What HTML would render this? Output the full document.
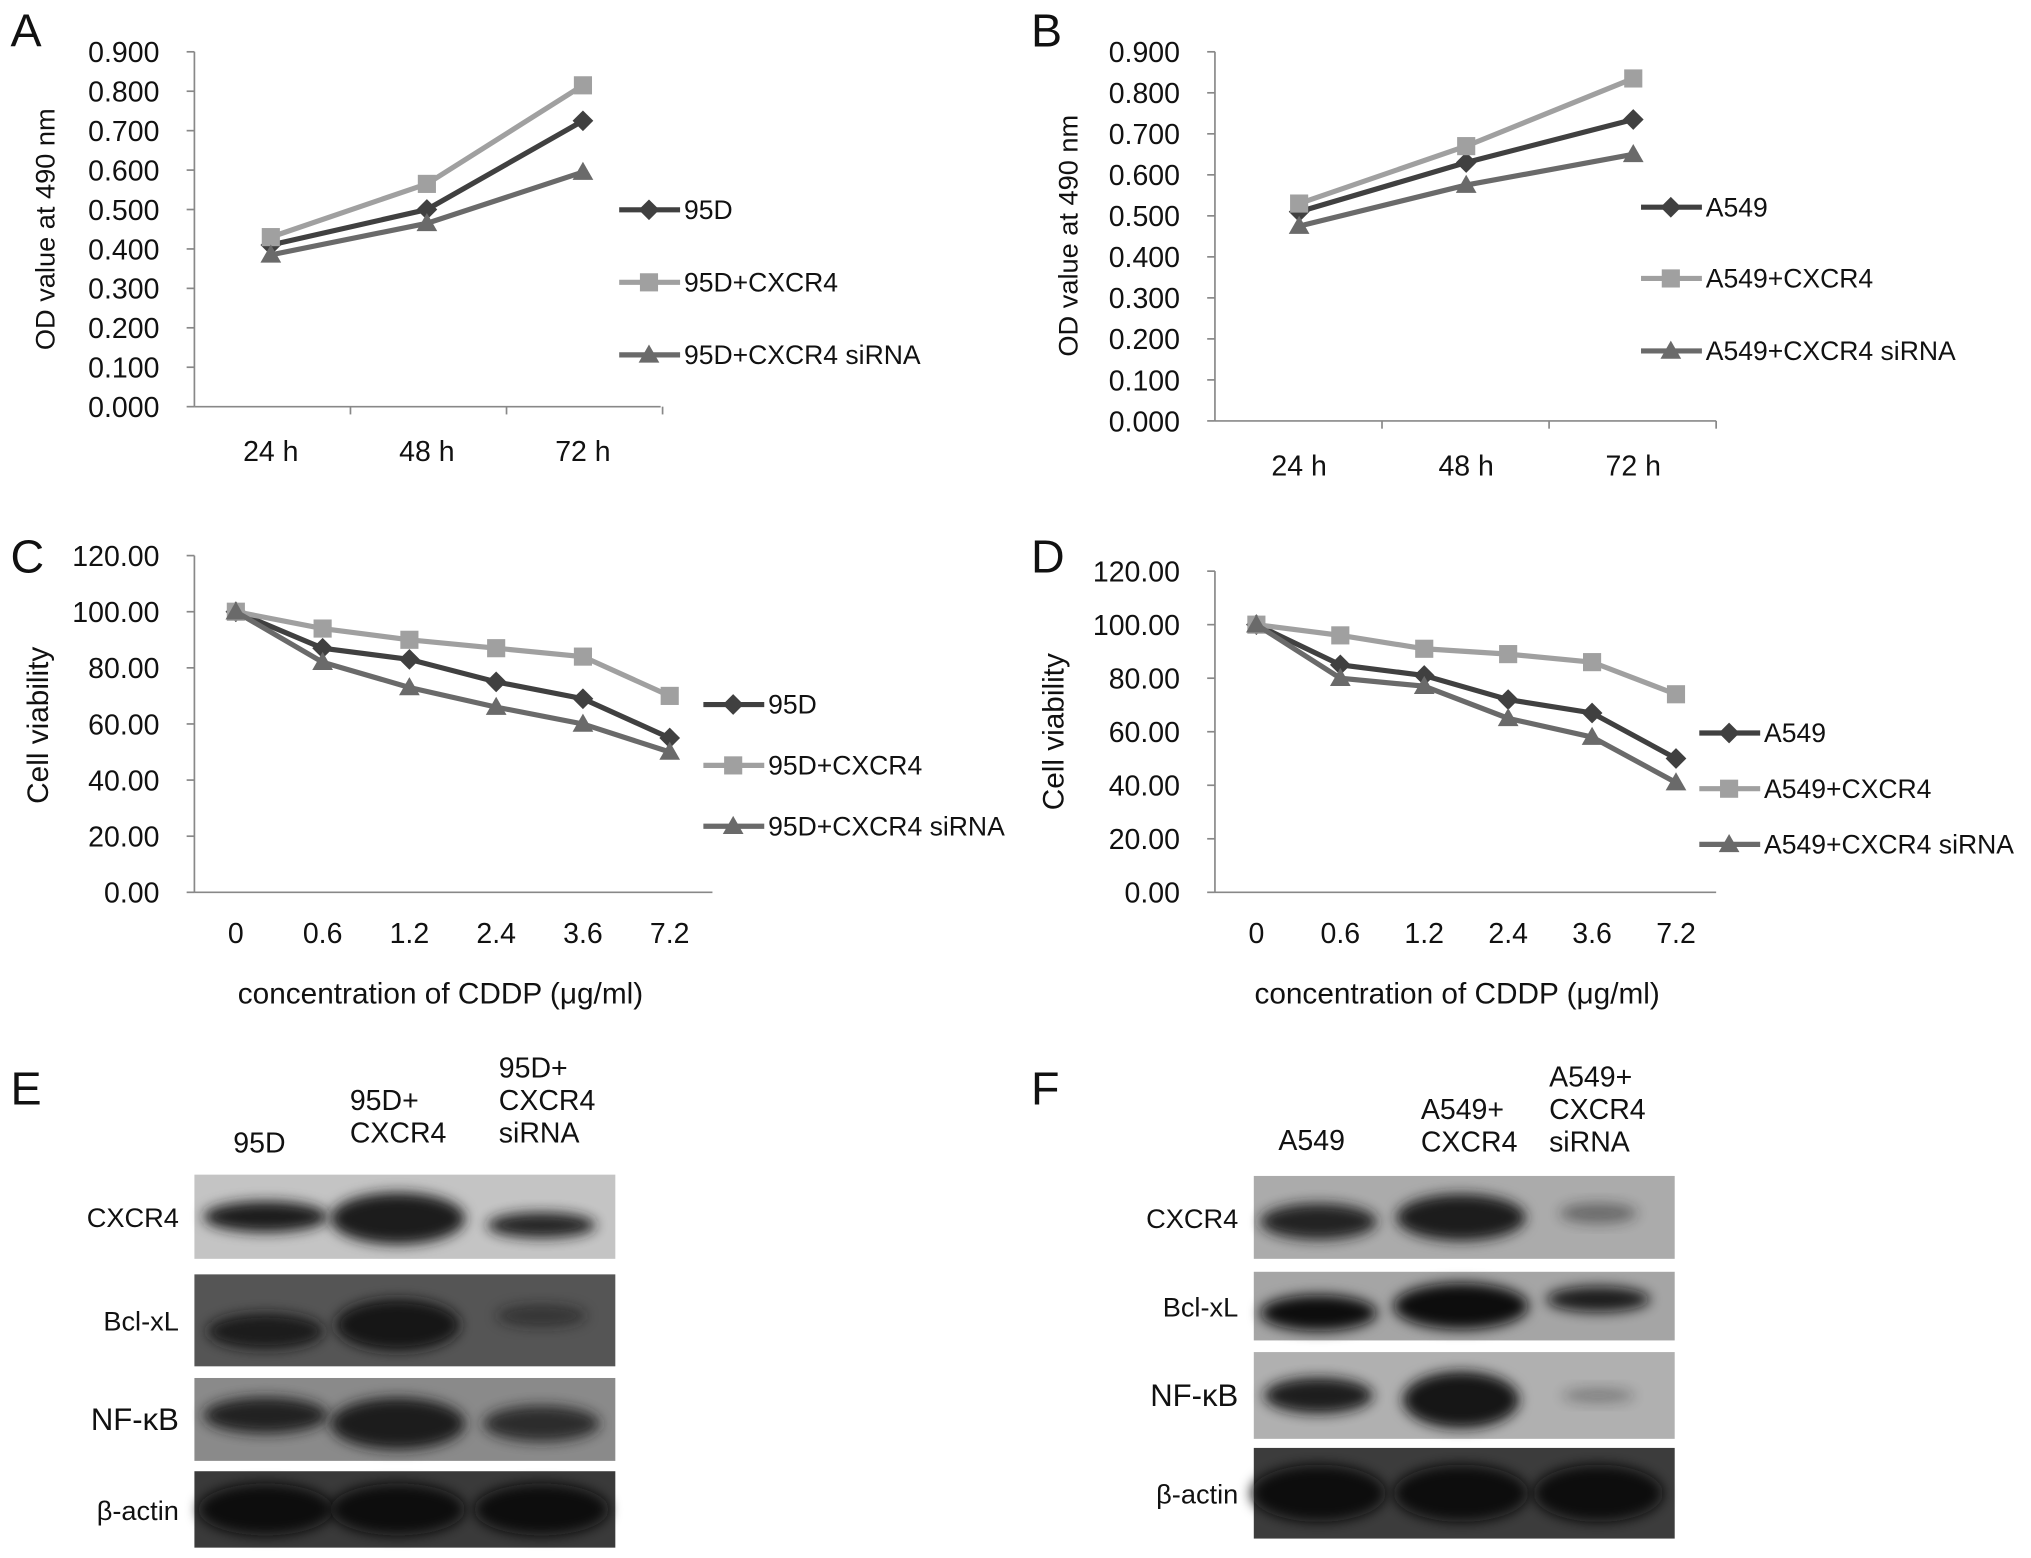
<!DOCTYPE html>
<html><head><meta charset="utf-8"><style>
html,body{margin:0;padding:0;background:#fff;}
svg{display:block;font-family:"Liberation Sans",sans-serif;}
</style></head><body>
<svg id="fig" width="2031" height="1558" viewBox="0 0 1568 1203" xmlns="http://www.w3.org/2000/svg">
<defs><filter id="blur" x="-50%" y="-50%" width="200%" height="200%"><feGaussianBlur stdDeviation="5"/></filter></defs>
<g id="root"></g>
</svg>
<script>
// Panel A data
const timeCats = ["24 h","48 h","72 h"];
const odTicks = ["0.000","0.100","0.200","0.300","0.400","0.500","0.600","0.700","0.800","0.900"];
const a95D = [0.41,0.50,0.725];
const a95DCX = [0.43,0.565,0.815];
const a95DSi = [0.385,0.465,0.595];
// Panel B data
const bA549 = [0.51,0.63,0.735];
const bA549CX = [0.53,0.67,0.835];
const bA549Si = [0.475,0.575,0.65];
// Panels C/D data
const doseCats = ["0","0.6","1.2","2.4","3.6","7.2"];
const cvTicks = ["0.00","20.00","40.00","60.00","80.00","100.00","120.00"];
const c95D = [100,87,83,75,69,55];
const c95DCX = [100,94,90,87,84,70];
const c95DSi = [100,82,73,66,60,50];
const dA549 = [100,85,81,72,67,50];
const dA549CX = [100,96,91,89,86,74];
const dA549Si = [100,80,77,65,58,41];

const NS="http://www.w3.org/2000/svg";
const root=document.getElementById('root');
function el(tag,attrs,parent,text){const e=document.createElementNS(NS,tag);for(const k in attrs)e.setAttribute(k,attrs[k]);if(text!==undefined)e.textContent=text;(parent||root).appendChild(e);return e;}
const COLS=["#404040","#a0a0a0","#6a6a6a"];
function marker(g,type,x,y,c){
  let m;
  if(type===0)m=el('polygon',{points:`${x},${y-8} ${x+8},${y} ${x},${y+8} ${x-8},${y}`,fill:c},g);
  else if(type===1)m=el('rect',{x:x-7,y:y-7,width:14,height:14,fill:c},g);
  else m=el('polygon',{points:`${x},${y-8} ${x+8},${y+6} ${x-8},${y+6}`,fill:c},g);
  
  
}
function chart(o){
  const g=el('g',{},root);
  
  
  const yS=v=>o.y0-(v-o.vmin)/(o.vmax-o.vmin)*(o.y0-o.y1);
  const xS=i=>o.x0+o.pad+i*o.step;
  const ax=el('line',{x1:o.x0,y1:o.y0,x2:o.x0,y2:o.y1,stroke:'#888','stroke-width':1.3},g);
  
  const bx=el('line',{x1:o.x0,y1:o.y0,x2:o.xEnd,y2:o.y0,stroke:'#888','stroke-width':1.3},g);
  
  o.ticks.forEach((t,i)=>{const v=o.vmin+i*(o.vmax-o.vmin)/(o.ticks.length-1);const y=yS(v);
    el('line',{x1:o.x0-6,y1:y,x2:o.x0,y2:y,stroke:'#888','stroke-width':1.3},g);
    const tx=el('text',{x:o.x0-27,y:y+8,'text-anchor':'end','font-size':22,fill:'#111'},g,t);
    });
  o.cats.forEach((c,i)=>{
    if(o.catTicks) el('line',{x1:o.x0+(i+1)*o.step,y1:o.y0,x2:o.x0+(i+1)*o.step,y2:o.y0+6,stroke:'#888','stroke-width':1.3},g);
    const tx=el('text',{x:xS(i),y:o.y0+o.labOff,'text-anchor':'middle','font-size':22,fill:'#111'},g,c);
    });
  const yt=el('text',{transform:`translate(${o.ytx},${o.yty}) rotate(-90)`,'text-anchor':'middle','font-size':o.ytfs||21,fill:'#111'},g,o.ytitle);
  
  if(o.xtitle){const xt=el('text',{x:o.xtx,y:o.xty,'text-anchor':'middle','font-size':23,fill:'#111'},g,o.xtitle);
    }
  const L=el('text',{x:o.lx,y:o.ly,'font-size':36,fill:'#111'},g,o.letter);
  
  o.series.forEach((s,si)=>{
    const pts=s.map((v,i)=>xS(i)+','+yS(v)).join(' ');
    const pl=el('polyline',{points:pts,fill:'none',stroke:COLS[si],'stroke-width':4},g);
    
    s.forEach((v,i)=>marker(g,si,xS(i),yS(v),COLS[si]));
    const lg=el('g',{},g);
    
    const ly=o.legY[si];
    el('line',{x1:o.legX,y1:ly,x2:o.legX+47,y2:ly,stroke:COLS[si],'stroke-width':4},lg);
    marker(lg,si,o.legX+23,ly,COLS[si]);
    el('text',{x:o.legX+50,y:ly+7,'font-size':20.5,fill:'#111'},lg,o.names[si]);
  });
}
chart({name:'chart-a',x0:150,y0:314,y1:40,vmin:0,vmax:0.9,ticks:odTicks,cats:timeCats,pad:59,step:120.5,xEnd:510,catTicks:true,labOff:42,
  ytitle:'OD value at 490 nm',ytx:42,yty:177,letter:'A',lx:8,ly:36,series:[a95D,a95DCX,a95DSi],legX:478,legY:[162,218,274],
  names:['95D','95D+CXCR4','95D+CXCR4 siRNA']});
chart({name:'chart-b',x0:938,y0:325,y1:40,vmin:0,vmax:0.9,ticks:odTicks,cats:timeCats,pad:65,step:129,xEnd:1325,catTicks:true,labOff:42,
  ytitle:'OD value at 490 nm',ytx:832,yty:182,letter:'B',lx:796,ly:36,series:[bA549,bA549CX,bA549Si],legX:1267,legY:[160,215,271],
  names:['A549','A549+CXCR4','A549+CXCR4 siRNA']});
chart({name:'chart-c',x0:150,y0:689,y1:429,vmin:0,vmax:120,ticks:cvTicks,cats:doseCats,pad:32,step:67,xEnd:550,labOff:39,
  ytitle:'Cell viability',ytfs:23,ytx:37,yty:560,xtitle:'concentration of CDDP (μg/ml)',xtx:340,xty:775,letter:'C',lx:8,ly:442,
  series:[c95D,c95DCX,c95DSi],legX:543,legY:[544,591,638],names:['95D','95D+CXCR4','95D+CXCR4 siRNA']});
chart({name:'chart-d',x0:938,y0:689,y1:441,vmin:0,vmax:120,ticks:cvTicks,cats:doseCats,pad:32,step:64.8,xEnd:1325,labOff:39,
  ytitle:'Cell viability',ytfs:23,ytx:821,yty:565,xtitle:'concentration of CDDP (μg/ml)',xtx:1125,xty:775,letter:'D',lx:796,ly:442,
  series:[dA549,dA549CX,dA549Si],legX:1312,legY:[566,609,652],names:['A549','A549+CXCR4','A549+CXCR4 siRNA']});

// Western blots
function blot(o){
  const g=el('g',{},root);
  
  const L=el('text',{x:o.lx,y:o.ly,'font-size':36,fill:'#111'},g,o.letter);
  
  o.heads.forEach((h,i)=>{h.forEach((line,j)=>{const t=el('text',{x:o.headX[i],y:o.headY[i]+j*25,'font-size':22,fill:'#111'},g,line);
    });});
  o.rows.forEach(r=>{
    const rg=el('g',{},g);
    
    el('rect',{x:o.x0,y:r.y,width:o.w,height:r.h,fill:r.bg},rg);
    r.bands.forEach((b,i)=>{el('ellipse',{cx:o.bandX[i],cy:r.y+r.h*b[2],rx:b[0],ry:b[1],fill:r.fg,opacity:b[3],filter:'url(#blur)'},rg);});
    const t=el('text',{x:o.x0-12,y:r.y+r.h/2+8,'text-anchor':'end','font-size':r.fs||21,fill:'#111'},rg,r.label);
    
  });
}
blot({name:'blot-e',letter:'E',lx:8,ly:853,x0:150,w:325,bandX:[205,307,418],
  heads:[['95D'],['95D+','CXCR4'],['95D+','CXCR4','siRNA']],headX:[180,270,385],headY:[890,857,832],
  rows:[
    {label:'CXCR4',y:907,h:65,bg:'#c4c4c4',fg:'#1a1a1a',bands:[[48,12,0.5,1],[52,20,0.52,1],[42,10,0.6,0.95]]},
    {label:'Bcl-xL',y:984,h:71,bg:'#555',fg:'#151515',bands:[[45,14,0.62,0.9],[48,20,0.55,1],[35,9,0.45,0.5]]},
    {label:'NF-κB',y:1064,h:64,bg:'#8a8a8a',fg:'#1a1a1a',fs:24,bands:[[48,14,0.45,0.95],[52,20,0.55,1],[45,14,0.55,0.85]]},
    {label:'β-actin',y:1136,h:59,bg:'#3a3a3a',fg:'#111',bands:[[52,20,0.5,1],[52,20,0.5,1],[52,20,0.5,1]]}
  ]});
blot({name:'blot-f',letter:'F',lx:796,ly:853,x0:968,w:325,bandX:[1018,1128,1234],
  heads:[['A549'],['A549+','CXCR4'],['A549+','CXCR4','siRNA']],headX:[987,1097,1196],headY:[888,864,839],
  rows:[
    {label:'CXCR4',y:908,h:64,bg:'#ababab',fg:'#1a1a1a',bands:[[45,14,0.55,0.95],[50,18,0.5,1],[30,8,0.45,0.45]]},
    {label:'Bcl-xL',y:982,h:53,bg:'#a5a5a5',fg:'#111',bands:[[45,14,0.6,1],[52,18,0.5,1],[40,10,0.4,0.9]]},
    {label:'NF-κB',y:1044,h:67,bg:'#b0b0b0',fg:'#151515',fs:24,bands:[[42,14,0.5,0.95],[45,22,0.55,1],[28,6,0.5,0.3]]},
    {label:'β-actin',y:1118,h:70,bg:'#3c3c3c',fg:'#111',bands:[[52,22,0.5,1],[52,22,0.5,1],[50,22,0.5,1]]}
  ]});
</script>
</body></html>
